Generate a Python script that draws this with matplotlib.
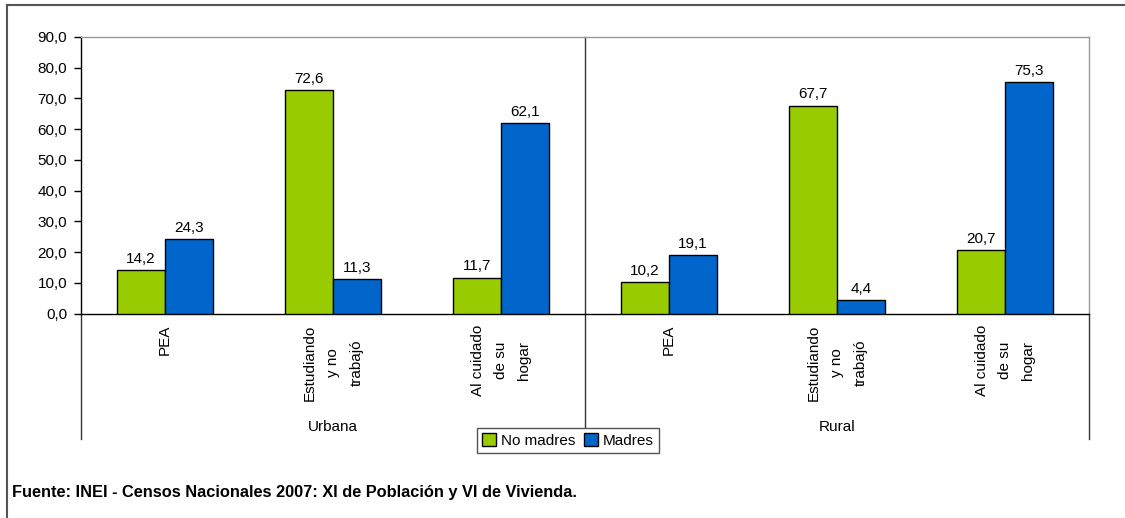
import matplotlib
matplotlib.use("Agg")
import matplotlib.pyplot as plt
from matplotlib.lines import Line2D
import numpy as np

plt.rcParams['font.family'] = ['Liberation Sans', 'DejaVu Sans']

groups = ["Urbana", "Rural"]
categories = ["PEA", "Estudiando\ny no\ntrabajó", "Al cuidado\nde su\nhogar"] * 2
no_madres = [14.2, 72.6, 11.7, 10.2, 67.7, 20.7]
madres = [24.3, 11.3, 62.1, 19.1, 4.4, 75.3]
series_names = ["No madres", "Madres"]
yticks = [0, 10, 20, 30, 40, 50, 60, 70, 80, 90]
source = "Fuente: INEI - Censos Nacionales 2007: XI de Población y VI de Vivienda."

W, H = 1125, 518
fig = plt.figure(figsize=(W / 100, H / 100), dpi=100)

def fx(px):
    return px / W

def fy(py):
    return 1 - py / H

FS = 11
left, right, top, bottom = 81, 1089, 37, 313.5
ax = fig.add_axes([fx(left), fy(bottom), fx(right - left), (bottom - top) / H])

green = "#99CC00"
blue = "#0066CC"
n = len(categories)
x = np.arange(n)
w = 1 / 3.5
b1 = ax.bar(x - w / 2, no_madres, width=w, color=green, edgecolor="black", linewidth=1.0,
            label=series_names[0], zorder=3)
b2 = ax.bar(x + w / 2, madres, width=w, color=blue, edgecolor="black", linewidth=1.0,
            label=series_names[1], zorder=3)

for bars, vals in ((b1, no_madres), (b2, madres)):
    for r, v in zip(bars, vals):
        ax.annotate(f"{v:.1f}".replace(".", ","), (r.get_x() + r.get_width() / 2, v),
                    xytext=(0, 3), textcoords="offset points", ha="center", va="bottom",
                    fontsize=FS)

ax.set_xlim(-0.5, n - 0.5)
ax.set_ylim(0, 90)
ax.set_yticks(yticks)
ax.set_yticklabels([f"{t:.1f}".replace(".", ",") for t in yticks], fontsize=FS)
ax.tick_params(axis="y", length=5, width=1, color="black", pad=5)
ax.set_xticks(x)
ax.set_xticklabels(categories, rotation=90, ha="center", va="top", multialignment="center",
                   fontsize=FS, linespacing=1.85)
ax.tick_params(axis="x", length=0, pad=8)

ax.spines["left"].set_color("black")
ax.spines["bottom"].set_color("black")
ax.spines["top"].set_color("#999999")
ax.spines["right"].set_color("#999999")
for s in ax.spines.values():
    s.set_linewidth(1.0)

# group separator lines extending below axis
ybot = (bottom - 439) / (bottom - top)
for xp in (-0.5, 2.5, n - 0.5):
    ax.plot([xp, xp], [ybot, 1 if xp == 2.5 else 0], transform=ax.get_xaxis_transform(),
            color="#333333", lw=1.0, clip_on=False, zorder=1)

# group labels
for i, g in enumerate(groups):
    ax.text(1 + 3 * i, (bottom - 427) / (bottom - top), g, transform=ax.get_xaxis_transform(),
            ha="center", va="center", fontsize=FS)

leg = fig.legend(handles=[b1, b2], labels=series_names, loc="center",
                 bbox_to_anchor=(fx(568), fy(440.5)), ncol=2, fontsize=FS,
                 frameon=True, fancybox=False, edgecolor="#555555", framealpha=1,
                 handlelength=0.9, handleheight=0.9, handletextpad=0.3, columnspacing=0.6,
                 borderpad=0.35, borderaxespad=0)
leg.get_frame().set_linewidth(1.0)

# outer chart border
fig.add_artist(Line2D([fx(7), fx(7)], [fy(5), 0], color="#555555", lw=1.5))
fig.add_artist(Line2D([fx(7), 1], [fy(5), fy(5)], color="#555555", lw=1.5))

fig.text(fx(12), fy(492), source, ha="left", va="center", fontsize=11.8, fontweight="bold")

fig.savefig("out.png", dpi=100)
